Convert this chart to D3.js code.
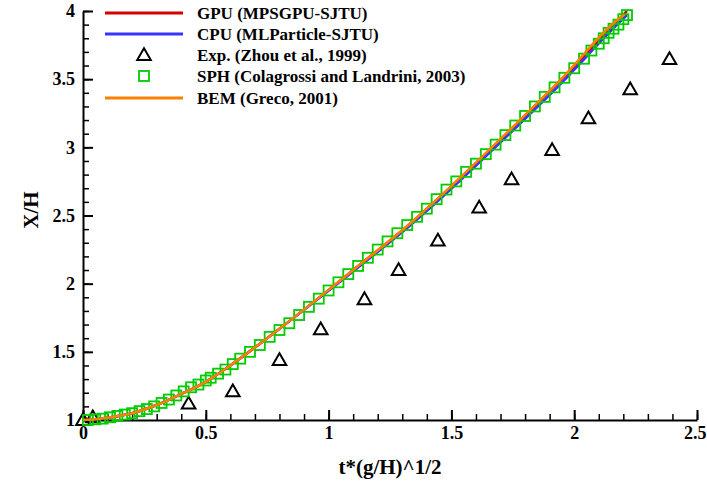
<!DOCTYPE html>
<html><head><meta charset="utf-8">
<script src="https://cdn.jsdelivr.net/npm/d3@7"></script>
<style>
body{margin:0;background:#fff;}
svg text{font-family:"Liberation Serif","Times New Roman",serif;font-weight:bold;fill:#000;}
</style></head>
<body><svg id="c" width="707" height="487"></svg>
<script>
// ---- data ----
const curveT   = [0, 0.05, 0.1, 0.2, 0.3, 0.4, 0.5, 0.6, 0.75, 0.966, 1.1, 1.334, 1.484, 1.702, 1.947, 2.186, 2.215];
const gpuY     = [1.0, 1.005, 1.017, 1.05, 1.11, 1.19, 1.28, 1.40, 1.6, 1.905, 2.10, 2.443, 2.687, 3.06, 3.494, 3.947, 4.0];
const cpuY     = [1.0, 1.005, 1.017, 1.05, 1.11, 1.19, 1.28, 1.40, 1.6, 1.90, 2.09, 2.43, 2.67, 3.04, 3.47, 3.92, 3.97];
const bemT     = [0, 0.05, 0.1, 0.2, 0.3, 0.4, 0.5, 0.6, 0.75, 0.966, 1.1, 1.334, 1.484, 1.702, 1.947, 2.186, 2.205];
const bemY     = [1.0, 1.005, 1.017, 1.05, 1.11, 1.19, 1.28, 1.40, 1.6, 1.905, 2.10, 2.445, 2.69, 3.065, 3.50, 3.95, 3.975];
const expT     = [0, 0.04, 0.43, 0.61, 0.80, 0.968, 1.146, 1.285, 1.445, 1.613, 1.745, 1.91, 2.058, 2.228, 2.388];
const expY     = [1.0, 1.02, 1.12, 1.21, 1.44, 1.665, 1.886, 2.10, 2.316, 2.558, 2.766, 2.98, 3.213, 3.426, 3.648];
const sphT = [0.02,0.05,0.08,0.11,0.14,0.17,0.2,0.23,0.26,0.29,0.32,0.35,0.38,0.41,0.44,0.47,0.5,0.52,0.55,0.58,0.61,0.64,0.68,0.72,0.76,0.8,0.84,0.88,0.92,0.96,1.0,1.04,1.08,1.12,1.16,1.2,1.24,1.28,1.32,1.36,1.4,1.44,1.48,1.52,1.56,1.6,1.64,1.68,1.72,1.76,1.8,1.84,1.88,1.92,1.96,2.0,2.04,2.07,2.1,2.12,2.14,2.16,2.18,2.2,2.215];
const sphY = [1.0,1.005,1.01,1.02,1.03,1.04,1.05,1.065,1.08,1.1,1.125,1.15,1.18,1.21,1.24,1.26,1.29,1.31,1.34,1.37,1.41,1.45,1.5,1.55,1.61,1.66,1.71,1.77,1.83,1.89,1.95,2.01,2.07,2.13,2.19,2.25,2.31,2.37,2.43,2.49,2.55,2.62,2.69,2.75,2.82,2.88,2.95,3.02,3.09,3.16,3.23,3.3,3.37,3.44,3.51,3.58,3.65,3.71,3.76,3.8,3.84,3.87,3.9,3.94,3.97];
const xTicks = [0, 0.5, 1, 1.5, 2, 2.5];
const xTickLabels = ["0", "0.5", "1", "1.5", "2", "2.5"];
const yTicks = [1, 1.5, 2, 2.5, 3, 3.5, 4];
const yTickLabels = ["1", "1.5", "2", "2.5", "3", "3.5", "4"];
const legendLabels = ["GPU (MPSGPU-SJTU)", "CPU (MLParticle-SJTU)", "Exp. (Zhou et al., 1999)", "SPH (Colagrossi and Landrini, 2003)", "BEM (Greco, 2001)"];
const xTitle = "t*(g/H)^1/2";
const yTitle = "X/H";

// ---- chart ----
const svg = d3.select("#c");
const x = d3.scaleLinear().domain([0, 2.5]).range([83, 697]);
const y = d3.scaleLinear().domain([1, 4]).range([420, 11]);
const RED = "#d40000", BLUE = "#3535ff", ORANGE = "#ff8000", GREEN = "#00cc00";

// minor ticks
const xMinor = d3.range(0, 26).map(i => i / 10);
const yMinor = d3.range(10, 41).map(i => i / 10);
svg.append("g").attr("transform", "translate(0,420)")
  .call(d3.axisBottom(x).tickValues(xMinor).tickSize(-6).tickFormat(""))
  .call(g => g.select(".domain").remove())
  .call(g => g.selectAll("line").attr("stroke-width", 1.5));
svg.append("g").attr("transform", "translate(83,0)")
  .call(d3.axisLeft(y).tickValues(yMinor).tickSize(-6).tickFormat(""))
  .call(g => g.select(".domain").remove())
  .call(g => g.selectAll("line").attr("stroke-width", 1.5));

// major
const gx = svg.append("g").attr("transform", "translate(0,420)")
  .call(d3.axisBottom(x).tickValues(xTicks).tickSize(-10).tickPadding(6)
    .tickFormat((d, i) => xTickLabels[i]).tickSizeOuter(0));
gx.selectAll("line").attr("stroke-width", 2);
gx.select(".domain").attr("stroke-width", 2);
gx.selectAll("text").style("font-size", "18px").attr("dy", "0.72em");
gx.selectAll("text").filter(d => d === 2.5).attr("text-anchor", "end").attr("x", 9);

const gy = svg.append("g").attr("transform", "translate(83,0)")
  .call(d3.axisLeft(y).tickValues(yTicks).tickSize(-10).tickPadding(8)
    .tickFormat((d, i) => yTickLabels[i]).tickSizeOuter(0));
gy.selectAll("line").attr("stroke-width", 2);
gy.select(".domain").attr("stroke-width", 2);
gy.selectAll("text").style("font-size", "18px");

// titles
svg.append("text").attr("x", 390).attr("y", 474).attr("text-anchor", "middle")
  .style("font-size", "21px").text(xTitle);
svg.append("text").attr("transform", "translate(38,210) rotate(-90)").attr("text-anchor", "middle")
  .style("font-size", "21px").text(yTitle);

// lines
const line = (ts, ys) => d3.line().curve(d3.curveMonotoneX)(ts.map((t, i) => [x(t), y(ys[i])]));
svg.append("path").attr("d", line(curveT, gpuY)).attr("fill", "none").attr("stroke", RED).attr("stroke-width", 2.5);
svg.append("path").attr("d", line(curveT, cpuY)).attr("fill", "none").attr("stroke", BLUE).attr("stroke-width", 2.5);

// triangles
const tri = d3.symbol().type(d3.symbolTriangle).size(80);
svg.append("g").selectAll("path").data(expT).join("path")
  .attr("d", tri).attr("transform", (d, i) => `translate(${x(d)},${y(expY[i]) + 1})`)
  .attr("fill", "none").attr("stroke", "#000").attr("stroke-width", 2);

// squares
svg.append("g").selectAll("rect").data(sphT).join("rect")
  .attr("x", d => x(d) - 5).attr("y", (d, i) => y(sphY[i]) - 5)
  .attr("width", 10).attr("height", 10)
  .attr("fill", "none").attr("stroke", GREEN).attr("stroke-width", 1.8);

svg.append("path").attr("d", line(bemT, bemY)).attr("fill", "none").attr("stroke", ORANGE).attr("stroke-width", 2.5);

// legend
const rows = [13, 34, 55, 76, 98];
const lg = svg.append("g");
[[RED, 0], [BLUE, 1], [ORANGE, 4]].forEach(([c, i]) => {
  lg.append("line").attr("x1", 105).attr("x2", 183).attr("y1", rows[i]).attr("y2", rows[i])
    .attr("stroke", c).attr("stroke-width", 3);
});
lg.append("path").attr("d", tri).attr("transform", `translate(144,${rows[2] + 1})`)
  .attr("fill", "none").attr("stroke", "#000").attr("stroke-width", 2);
lg.append("rect").attr("x", 139).attr("y", rows[3] - 5).attr("width", 10).attr("height", 10)
  .attr("fill", "none").attr("stroke", GREEN).attr("stroke-width", 1.8);
legendLabels.forEach((t, i) => {
  lg.append("text").attr("x", 197).attr("y", rows[i]).attr("dy", "0.35em")
    .style("font-size", "17px").text(t);
});
</script></body></html>
